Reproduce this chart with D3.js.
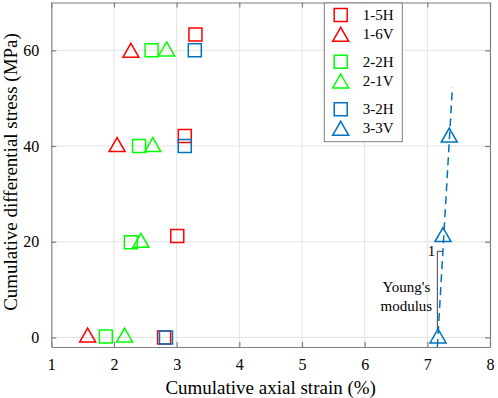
<!DOCTYPE html>
<html>
<head>
<meta charset="utf-8">
<script src="https://cdn.jsdelivr.net/npm/d3@7"></script>
<style>
  body { margin: 0; background: #fff; }
</style>
</head>
<body>
<div id="chart"></div>
<script>
// tick labels
var xTicks = [1, 2, 3, 4, 5, 6, 7, 8];
var yTicks = [0, 20, 40, 60];

// series: cumulative axial strain (%) and cumulative differential stress (MPa)
var names   = ["1-5H", "1-6V", "2-2H", "2-1V", "3-2H", "3-3V"];
var colors  = ["#ff0000", "#ff0000", "#00ff00", "#00ff00", "#0072bd", "#0072bd"];
var shapes  = ["square", "triangle", "square", "triangle", "square", "triangle"];

var strain15H = [2.80, 3.01, 3.13, 3.30];
var stress15H = [0.0, 21.2, 42.1, 63.3];
var strain16V = [1.58, 2.05, 2.27];
var stress16V = [0.5, 40.3, 60.0];
var strain22H = [1.87, 2.27, 2.40, 2.60];
var stress22H = [0.2, 19.9, 40.0, 60.0];
var strain21V = [2.17, 2.43, 2.62, 2.84];
var stress21V = [0.5, 20.3, 40.3, 60.3];
var strain32H = [2.83, 3.13, 3.29];
var stress32H = [0.0, 40.0, 60.0];
var strain33V = [7.17, 7.25, 7.35];
var stress33V = [0.3, 21.5, 42.3];

// fitted line through 3-3V and the Young's modulus slope mark
var fitStrain = [7.16, 7.40];
var fitStress = [-2, 52.3];
var slopeStrain = [7.16, 7.16, 7.24];
var slopeStress = [1.5, 18.0, 18.0];

var strains = [strain15H, strain16V, strain22H, strain21V, strain32H, strain33V];
var stresses = [stress15H, stress16V, stress22H, stress21V, stress32H, stress33V];

var series = names.map(function(n, i) {
    return {
        name: n, color: colors[i], shape: shapes[i],
        points: strains[i].map(function(s, j) { return { x: s, y: stresses[i][j] }; })
    };
});

var FONT = "'Liberation Serif', 'Times New Roman', 'DejaVu Serif', serif";

var W = 498, H = 398;
var margin = { top: 2.5, right: 8, bottom: 51, left: 51.3 };
var width = W - margin.left - margin.right,
    height = H - margin.top - margin.bottom;

var svg = d3.select("#chart").append("svg")
    .attr("width", W)
    .attr("height", H)
    .attr("font-family", FONT)
    .append("g")
    .attr("transform", "translate(" + margin.left + "," + margin.top + ")");

var x = d3.scaleLinear().domain([1, 8]).range([0, width]);
var y = d3.scaleLinear().domain([-2, 70]).range([height, 0]);

// custom marker shapes (MATLAB style)
var squareSym = { draw: function(ctx, size) {
    var h = 6.5;
    ctx.moveTo(-h, -h); ctx.lineTo(h, -h); ctx.lineTo(h, h); ctx.lineTo(-h, h); ctx.closePath();
} };
var triSym = { draw: function(ctx, size) {
    ctx.moveTo(0, -7); ctx.lineTo(8, 7); ctx.lineTo(-8, 7); ctx.closePath();
} };
var symbolFor = function(shape) {
    return d3.symbol().type(shape === "square" ? squareSym : triSym)();
};

// grid
svg.append("g").attr("class", "grid")
    .selectAll("line.gx").data(xTicks.slice(1, -1)).enter().append("line")
    .attr("x1", function(d) { return x(d); }).attr("x2", function(d) { return x(d); })
    .attr("y1", 0).attr("y2", height)
    .attr("stroke", "#e3e3e3").attr("stroke-width", 1);
svg.append("g").attr("class", "grid")
    .selectAll("line.gy").data(yTicks).enter().append("line")
    .attr("x1", 0).attr("x2", width)
    .attr("y1", function(d) { return y(d); }).attr("y2", function(d) { return y(d); })
    .attr("stroke", "#e3e3e3").attr("stroke-width", 1);

// axes (ticks inside, box on)
var styleAxis = function(g, labels) {
    g.attr("font-family", FONT).attr("font-size", 16);
    g.select(".domain").attr("stroke", "#808080").attr("stroke-width", 1.2);
    g.selectAll(".tick line").attr("stroke", "#808080").attr("stroke-width", 1.2);
    g.selectAll(".tick text").attr("fill", "#000")
        .style("display", labels ? null : "none");
};

svg.append("g")
    .attr("transform", "translate(0," + height + ")")
    .call(d3.axisBottom(x).tickValues(xTicks).tickSizeInner(-5).tickSizeOuter(0).tickPadding(12).tickFormat(d3.format("d")))
    .call(styleAxis, true);
svg.append("g")
    .call(d3.axisTop(x).tickValues(xTicks).tickSizeInner(-5).tickSizeOuter(0))
    .call(styleAxis, false);
svg.append("g")
    .call(d3.axisLeft(y).tickValues(yTicks).tickSizeInner(-5).tickSizeOuter(0).tickPadding(12))
    .call(styleAxis, true);
svg.append("g")
    .attr("transform", "translate(" + width + ",0)")
    .call(d3.axisRight(y).tickValues(yTicks).tickSizeInner(-5).tickSizeOuter(0))
    .call(styleAxis, false);

// dashed fit line
var line = d3.line().x(function(d) { return x(d[0]); }).y(function(d) { return y(d[1]); });
svg.append("path")
    .datum(d3.zip(fitStrain, fitStress))
    .attr("d", line)
    .attr("fill", "none")
    .attr("stroke", "#0072bd")
    .attr("stroke-width", 1.5)
    .attr("stroke-dasharray", "8,5");

// slope mark
svg.append("path")
    .datum(d3.zip(slopeStrain, slopeStress))
    .attr("d", line)
    .attr("fill", "none")
    .attr("stroke", "#404040")
    .attr("stroke-width", 1);
svg.append("text")
    .attr("x", x(slopeStrain[1]) - 2)
    .attr("y", y(slopeStress[1]) + 5)
    .attr("text-anchor", "end")
    .attr("font-size", 15)
    .text("1");
svg.append("text")
    .attr("x", x(slopeStrain[0]) - 31)
    .attr("y", y(slopeStress[1]) + 41)
    .attr("text-anchor", "middle")
    .attr("font-size", 15)
    .text("Young's");
svg.append("text")
    .attr("x", x(slopeStrain[0]) - 31)
    .attr("y", y(slopeStress[1]) + 60)
    .attr("text-anchor", "middle")
    .attr("font-size", 15)
    .text("modulus");

// markers
series.forEach(function(s) {
    svg.append("g").selectAll("path").data(s.points).enter().append("path")
        .attr("transform", function(d) { return "translate(" + x(d.x) + "," + y(d.y) + ")"; })
        .attr("d", symbolFor(s.shape))
        .attr("fill", "none")
        .attr("stroke", s.color)
        .attr("stroke-width", 1.5);
});

// legend
var legend = svg.append("g").attr("transform", "translate(" + (324.3 - margin.left) + "," + (3 - margin.top) + ")");
legend.append("rect")
    .attr("width", 78).attr("height", 138.7)
    .attr("fill", "#fff").attr("stroke", "#808080").attr("stroke-width", 1);
var rowY = [12, 31.3, 58.7, 78, 106.3, 125.3];
series.forEach(function(s, i) {
    legend.append("path")
        .attr("transform", "translate(16.4," + rowY[i] + ")")
        .attr("d", symbolFor(s.shape))
        .attr("fill", "none").attr("stroke", s.color).attr("stroke-width", 1.5);
    legend.append("text")
        .attr("x", 38.4).attr("y", rowY[i] + 5)
        .attr("font-size", 15)
        .text(s.name);
});

// axis titles
svg.append("text")
    .attr("x", width / 2)
    .attr("y", H - margin.top - 4)
    .attr("text-anchor", "middle")
    .attr("font-size", 19)
    .text("Cumulative axial strain (%)");
svg.append("text")
    .attr("transform", "rotate(-90)")
    .attr("x", -(172 - margin.top))
    .attr("y", 17 - margin.left)
    .attr("text-anchor", "middle")
    .attr("font-size", 19)
    .text("Cumulative differential stress (MPa)");
</script>
</body>
</html>
